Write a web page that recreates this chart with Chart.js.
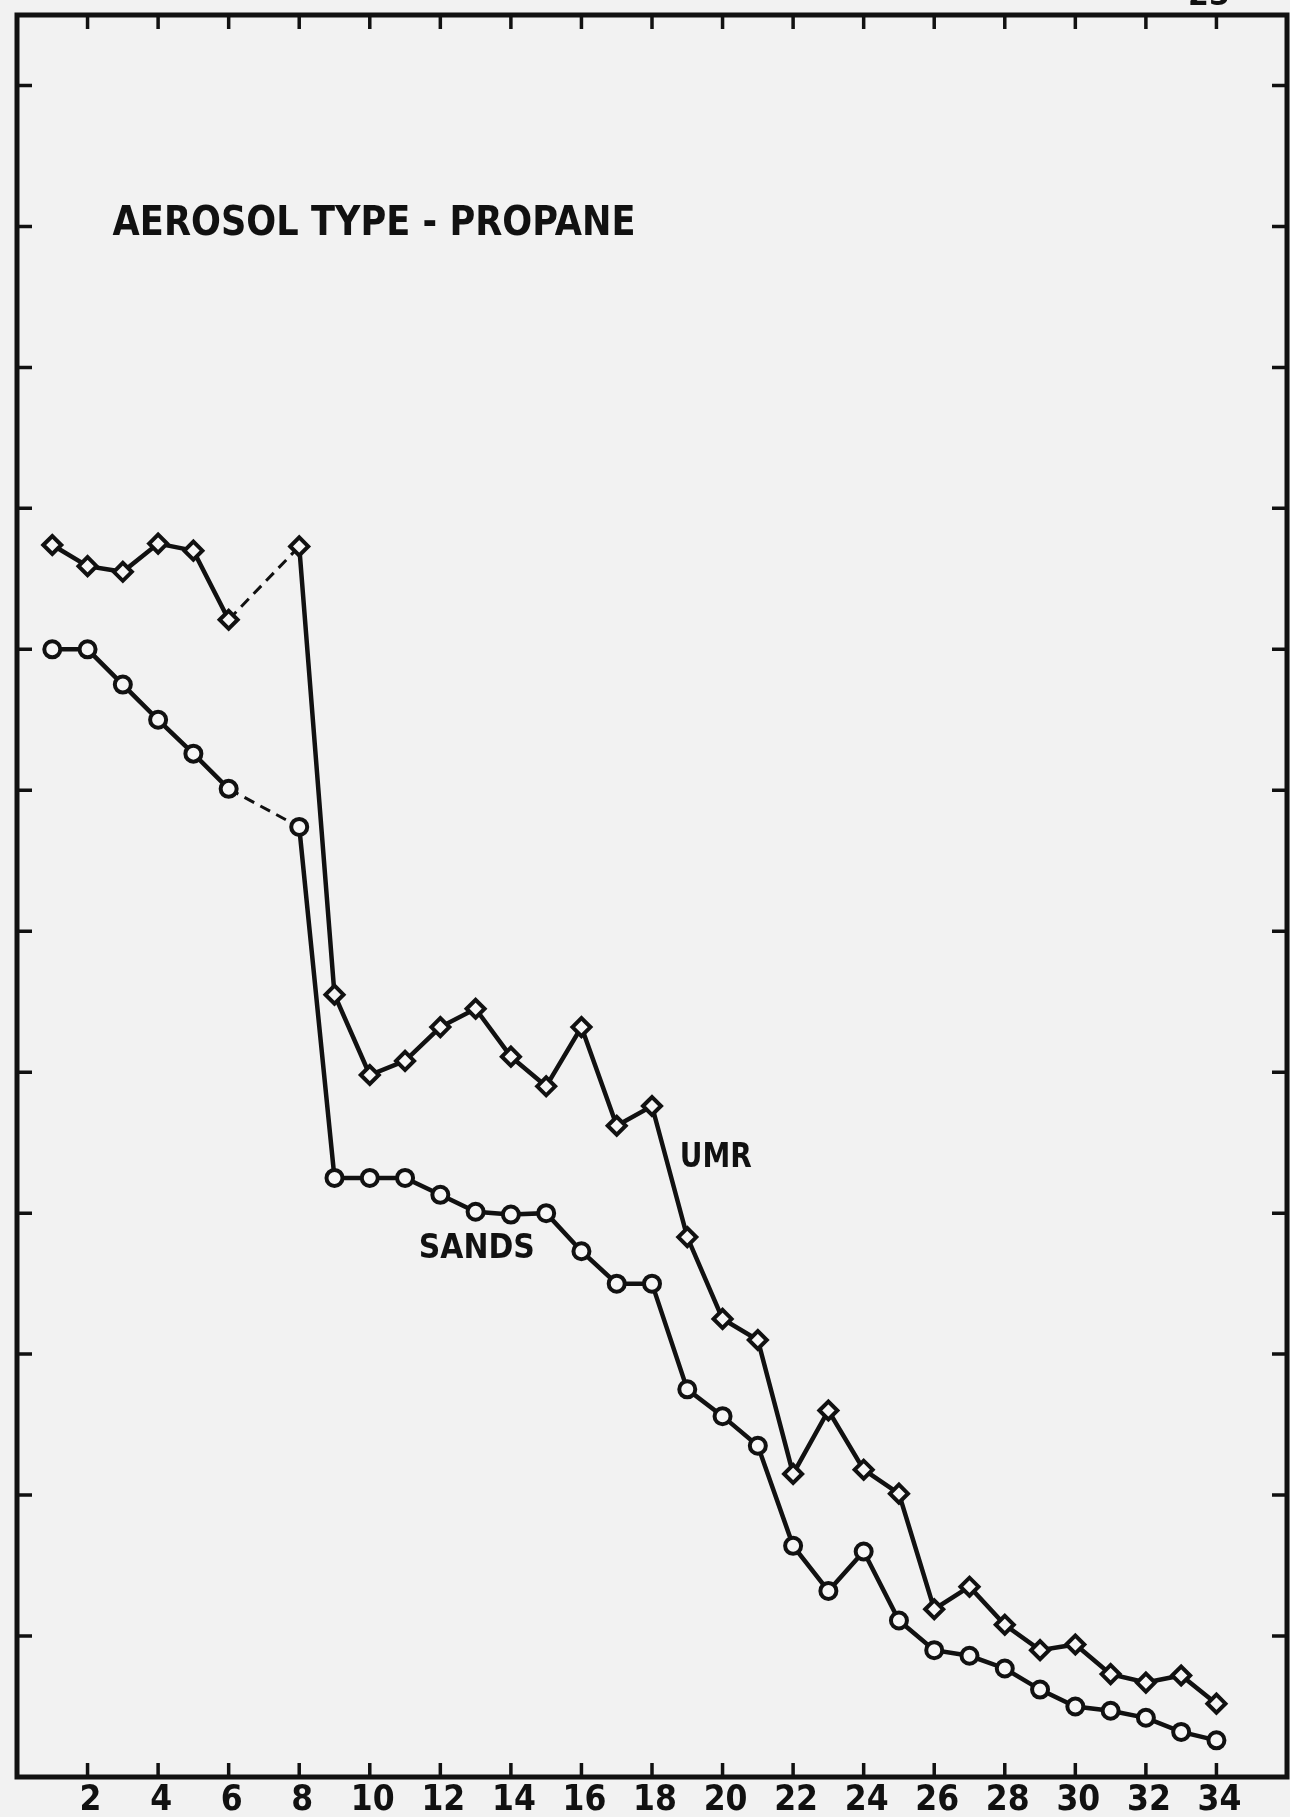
<!DOCTYPE html>
<html>
<head>
<meta charset="utf-8">
<script src="https://cdn.jsdelivr.net/npm/chart.js@4"></script>
<style>
  html, body { margin:0; padding:0; overflow:hidden; background:#f2f2f2; }
  #wrap { position:absolute; left:0; top:0; width:1300px; height:1817px; }
</style>
</head>
<body>
<div id="wrap"><canvas id="chart" width="1300" height="1817"></canvas></div>
<script>
// runs (7 is missing, bridged with a dashed segment)
const runs  = [1,2,3,4,5,6,8,9,10,11,12,13,14,15,16,17,18,19,20,21,22,23,24,25,26,27,28,29,30,31,32,33,34];
const umr   = [8.74,8.59,8.55,8.75,8.70,8.21,8.73,5.55,4.98,5.08,5.32,5.45,5.11,4.90,5.32,4.62,4.76,
               3.83,3.25,3.10,2.15,2.60,2.18,2.01,1.19,1.35,1.08,0.90,0.94,0.73,0.67,0.72,0.52];
const sands = [8.00,8.00,7.75,7.50,7.26,7.01,6.74,4.25,4.25,4.25,4.13,4.01,3.99,4.00,3.73,3.50,3.50,
               2.75,2.56,2.35,1.64,1.32,1.60,1.11,0.90,0.86,0.77,0.62,0.50,0.47,0.42,0.32,0.26];
const xTickLabels = [2,4,6,8,10,12,14,16,18,20,22,24,26,28,30,32,34];

const title = "AEROSOL TYPE - PROPANE";
const ink = "#111";

// text placed in data units
const notes = [
  { text: title,   x: 2.71,  y: 10.94, size: 41,   fit: 523 },
  { text: "UMR",   x: 18.79, y: 4.33,  size: 33.5, fit: 72 },
  { text: "SANDS", x: 11.39, y: 3.68,  size: 33.5, fit: 116 }
];

const pts = arr => runs.map((r,i) => ({ x: r, y: arr[i] }));
const gap = ctx => ctx.p1.parsed.x - ctx.p0.parsed.x > 1;

function series(data, style, r){
  return {
    data, borderColor: ink, borderWidth: 4.5, tension: 0,
    pointStyle: style, pointRadius: r, pointBorderWidth: 4,
    pointBackgroundColor: "#f6f6f6", pointBorderColor: ink,
    segment: {
      borderDash: ctx => (gap(ctx) ? [11,7] : undefined),
      borderWidth: ctx => (gap(ctx) ? 3 : undefined)
    }
  };
}
function dots(data){
  return { data, showLine: false, pointStyle: "circle", pointRadius: 2,
           pointBorderWidth: 0, pointBackgroundColor: ink };
}

const frame = {
  id: "frame",
  beforeDatasetsDraw(chart){
    const { ctx, chartArea: a, scales: { x, y } } = chart;
    ctx.save();
    ctx.strokeStyle = ink;
    ctx.lineWidth = 5;
    ctx.strokeRect(a.left, a.top, a.right - a.left, a.bottom - a.top);
    ctx.lineWidth = 3.5;
    ctx.beginPath();
    x.ticks.forEach(t => {
      if (t.value <= x.min || t.value >= x.max) return;
      const px = x.getPixelForValue(t.value);
      ctx.moveTo(px, a.bottom); ctx.lineTo(px, a.bottom - 14);
      ctx.moveTo(px, a.top);    ctx.lineTo(px, a.top + 14);
    });
    y.ticks.forEach(t => {
      if (t.value <= 0 || t.value % 1 !== 0) return;
      const py = y.getPixelForValue(t.value);
      ctx.moveTo(a.left, py);  ctx.lineTo(a.left + 15, py);
      ctx.moveTo(a.right, py); ctx.lineTo(a.right - 15, py);
    });
    ctx.stroke();

    ctx.fillStyle = ink;
    // x tick labels under the axis
    ctx.font = 'bold 35px "DejaVu Sans Condensed", "DejaVu Sans", sans-serif';
    ctx.textAlign = "center";
    ctx.textBaseline = "alphabetic";
    xTickLabels.forEach(v => {
      ctx.fillText(String(v), x.getPixelForValue(v) + 3, a.bottom + 33, 46);
    });

    ctx.textAlign = "left";
    notes.forEach(n => {
      ctx.font = `bold ${n.size}px "DejaVu Sans", sans-serif`;
      ctx.fillText(n.text, x.getPixelForValue(n.x), y.getPixelForValue(n.y), n.fit);
    });
    // page number, mostly cut off at the top
    ctx.font = 'bold 30px "DejaVu Sans", sans-serif';
    ctx.fillText("25", 1188, 5);
    ctx.restore();
  }
};

new Chart(document.getElementById("chart"), {
  type: "line",
  data: {
    datasets: [
      series(pts(umr), "rectRot", 9),
      series(pts(sands), "circle", 8),
      dots(pts(umr)),
      dots(pts(sands))
    ]
  },
  options: {
    responsive: false,
    animation: false,
    layout: { padding: { top: 15, right: 7, left: 0, bottom: 0 } },
    plugins: { legend: { display: false }, tooltip: { enabled: false } },
    scales: {
      x: {
        type: "linear", min: 0, max: 36,
        grid: { display: false }, border: { display: false },
        ticks: { stepSize: 2, display: false },
        afterFit(s){ s.height = 40; }
      },
      y: {
        type: "linear", min: 0, max: 12.5,
        grid: { display: false }, border: { display: false },
        ticks: { stepSize: 1, display: false },
        afterFit(s){ s.width = 17; }
      }
    }
  },
  plugins: [frame]
});
</script>
</body>
</html>
